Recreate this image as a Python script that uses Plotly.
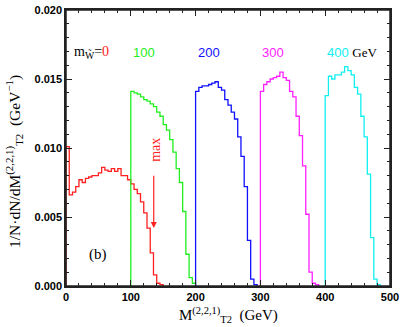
import plotly.graph_objects as go

# bin width 5 GeV, each histogram starts at its m_W value
bin_width = 5
m_w = [0, 100, 200, 300, 400]
colors = ["#ff2020", "#22ee22", "#1010ff", "#ff20ff", "#10f0f0"]

h0 = [0.0101, 0.0066, 0.0068, 0.0072, 0.0077, 0.0075, 0.0078, 0.0079, 0.0080, 0.0080,
      0.0082, 0.0086, 0.0084, 0.0083, 0.0085, 0.0083, 0.0085, 0.0080, 0.0080, 0.0077,
      0.0074, 0.0070, 0.0067, 0.0061, 0.0053, 0.0042, 0.0024, 0.0008, 0.0002, 0.0001]
h100 = [0.0141, 0.0140, 0.0139, 0.0137, 0.0135, 0.0134, 0.0132, 0.0130, 0.0126, 0.0123,
        0.0117, 0.0113, 0.0106, 0.0097, 0.0085, 0.0075, 0.0054, 0.0023, 0.0006, 0.0002]
h200 = [0.0141, 0.0144, 0.0145, 0.0145, 0.0146, 0.0147, 0.0148, 0.0144, 0.0142, 0.0135,
        0.0131, 0.0126, 0.0121, 0.0108, 0.0094, 0.0072, 0.0033, 0.0005, 0.0001]
h300 = [0.0141, 0.0146, 0.0148, 0.0150, 0.0151, 0.0152, 0.0155, 0.0151, 0.0149, 0.0141,
        0.0137, 0.0123, 0.0109, 0.0087, 0.0052, 0.0010, 0.0002, 0.0001]
h400 = [0.0138, 0.0152, 0.0150, 0.0153, 0.0153, 0.0155, 0.0159, 0.0156, 0.0153, 0.0144,
        0.0139, 0.0123, 0.0108, 0.0081, 0.0035, 0.0005, 0.0001]

hists = [h0, h100, h200, h300, h400]

fig = go.Figure()
for start, vals, col in zip(m_w, hists, colors):
    edges = [start + bin_width * i for i in range(len(vals) + 1)]
    xs = [edges[0]] + edges
    ys = [0] + vals + [0]
    fig.add_trace(go.Scatter(x=xs, y=ys, mode="lines", line=dict(color=col, width=1.3, shape="hv"),
                             showlegend=False, hoverinfo="skip"))

serif = "Liberation Serif"
sans = "Liberation Sans"

ax = dict(showline=True, linecolor="#222", linewidth=1.5, mirror="allticks", ticks="inside",
          tickcolor="#222", showgrid=False, zeroline=False, ticklabeloverflow="allow",
          tickfont=dict(family=sans, size=11, color="black", weight="bold"))

fig.update_xaxes(range=[0, 500], dtick=100, ticklen=6, tickwidth=1,
                 minor=dict(ticks="inside", dtick=20, ticklen=3, tickcolor="#222"), **ax)
fig.update_yaxes(range=[0, 0.020], dtick=0.005, tickformat=".3f", ticklen=6, tickwidth=1,
                 minor=dict(ticks="inside", dtick=0.001, ticklen=3, tickcolor="#222"), **ax)

# frame
fig.add_shape(type="rect", xref="paper", yref="paper", x0=0, y0=0, x1=1, y1=1,
              line=dict(color="#222", width=1.5), layer="above")

anns = [
    dict(x=40, y=0.0169, text='m<sub>W̃</sub>=<span style="color:#ff2020">0</span>',
         font=dict(family=serif, size=14, color="black"), xanchor="center"),
    dict(x=100, y=0.0169, text="100", font=dict(family=sans, size=13, color=colors[1]), xanchor="left"),
    dict(x=200, y=0.0169, text="200", font=dict(family=sans, size=13, color=colors[2]), xanchor="left"),
    dict(x=300, y=0.0169, text="300", font=dict(family=sans, size=13, color=colors[3]), xanchor="left"),
    dict(x=400, y=0.0169, text='400 <span style="color:black;font-family:Liberation Serif">GeV</span>',
         font=dict(family=sans, size=13, color=colors[4]), xanchor="left"),
    dict(x=50, y=0.00227, text="(b)", font=dict(family=serif, size=15, color="black"), xanchor="center"),
    dict(x=138, y=0.0099, text="max", textangle=-90, font=dict(family=serif, size=14, color="#ff2020")),
]
for a in anns:
    a.setdefault("showarrow", False)
    fig.add_annotation(xref="x", yref="y", yanchor="middle", **a)

# arrow under "max"
fig.add_annotation(x=135.4, y=0.0042, ax=135.4, ay=0.0081, xref="x", yref="y", axref="x", ayref="y",
                   showarrow=True, arrowhead=2, arrowsize=1, arrowwidth=1.2, arrowcolor="#ff2020", text="")

# axis titles
fig.add_annotation(xref="paper", yref="paper", x=-0.16, y=0.45, textangle=-90, showarrow=False,
                   text="1/N·dN/dM<sup>(2,2,1)</sup><sub>T2</sub>  (GeV<sup>−1</sup>)",
                   font=dict(family=serif, size=15.5, color="black"), xanchor="center", yanchor="middle")
fig.add_annotation(xref="paper", yref="paper", x=0.5, y=-0.06, showarrow=False,
                   text="M<sup>(2,2,1)</sup><sub>T2</sub>  (GeV)",
                   font=dict(family=serif, size=15, color="black"), xanchor="center", yanchor="top")

fig.update_layout(width=403, height=327, margin=dict(l=66, r=11, t=4, b=41),
                  plot_bgcolor="white", paper_bgcolor="white")

fig.write_html("out.html", config={"displayModeBar": False},
               post_script="document.body.style.margin='0';")
